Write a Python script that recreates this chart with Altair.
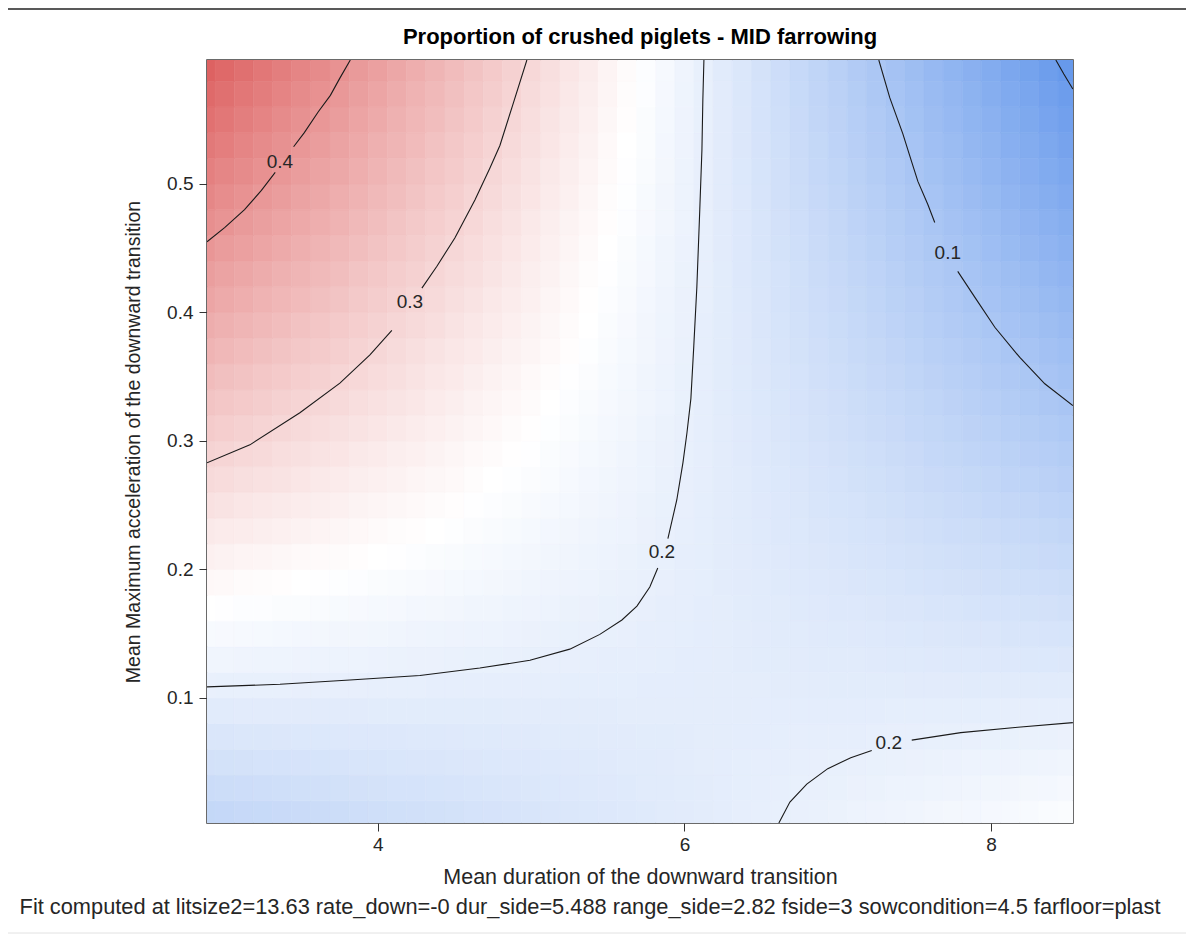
import altair as alt
import pandas as pd

FONT = "Liberation Sans"

TITLE = "Proportion of crushed piglets - MID farrowing"
X_TITLE = "Mean duration of the downward transition"
Y_TITLE = "Mean Maximum acceleration of the downward transition"
FOOTNOTE = ("Fit computed at litsize2=13.63 rate_down=-0 dur_side=5.488 "
            "range_side=2.82 fside=3 sowcondition=4.5 farfloor=plast")

x_domain = [2.885, 8.535]
y_domain = [0.0027, 0.5965]
x_ticks = [4, 6, 8]
y_ticks = [0.1, 0.2, 0.3, 0.4, 0.5]

# predicted proportion (cell centres)
grid_x = [2.875, 3.0, 3.125, 3.25, 3.375, 3.5, 3.625, 3.75, 3.875, 4.0, 4.125, 4.25,
          4.375, 4.5, 4.625, 4.75, 4.875, 5.0, 5.125, 5.25, 5.375, 5.5, 5.625, 5.75,
          5.875, 6.0, 6.125, 6.25, 6.375, 6.5, 6.625, 6.75, 6.875, 7.0, 7.125, 7.25,
          7.375, 7.5, 7.625, 7.75, 7.875, 8.0, 8.125, 8.25, 8.375, 8.5]
grid_y = [0.01, 0.03, 0.05, 0.07, 0.09, 0.11, 0.13, 0.15, 0.17, 0.19,
          0.21, 0.23, 0.25, 0.27, 0.29, 0.31, 0.33, 0.35, 0.37, 0.39,
          0.41, 0.43, 0.45, 0.47, 0.49, 0.51, 0.53, 0.55, 0.57, 0.59]
grid_values = [
    [.143, .145, .147, .148, .150, .152, .154, .156, .158, .160, .162, .164, .165, .167, .169, .171, .173, .175, .177, .179, .181, .183, .184, .186, .188, .190, .192, .194, .196, .198, .200, .201, .203, .205, .207, .209, .211, .213, .215, .217, .218, .220, .222, .224, .226, .228],
    [.154, .156, .157, .159, .160, .162, .163, .165, .166, .168, .169, .170, .172, .173, .175, .176, .178, .179, .181, .182, .184, .185, .186, .188, .189, .191, .192, .194, .195, .197, .198, .200, .201, .202, .204, .205, .207, .208, .210, .211, .213, .214, .216, .217, .218, .220],
    [.166, .167, .168, .169, .170, .171, .172, .173, .174, .175, .176, .177, .178, .179, .180, .181, .182, .183, .184, .185, .186, .187, .188, .189, .190, .192, .193, .194, .195, .196, .197, .198, .199, .200, .201, .202, .203, .204, .205, .206, .207, .208, .209, .210, .211, .212],
    [.178, .178, .179, .179, .180, .181, .181, .182, .182, .183, .183, .184, .184, .185, .186, .186, .187, .187, .188, .188, .189, .190, .190, .191, .191, .192, .193, .193, .194, .194, .195, .196, .196, .197, .197, .198, .199, .199, .200, .200, .201, .202, .202, .203, .203, .204],
    [.189, .189, .190, .190, .190, .190, .190, .190, .190, .191, .191, .191, .191, .191, .191, .191, .192, .192, .192, .192, .192, .192, .193, .193, .193, .193, .193, .193, .193, .194, .194, .194, .194, .194, .194, .194, .195, .195, .195, .195, .195, .195, .196, .196, .196, .196],
    [.201, .200, .200, .200, .200, .199, .199, .199, .199, .198, .198, .198, .197, .197, .197, .197, .196, .196, .196, .195, .195, .195, .195, .194, .194, .194, .193, .193, .193, .193, .192, .192, .192, .191, .191, .191, .191, .190, .190, .190, .189, .189, .189, .189, .188, .188],
    [.212, .212, .211, .210, .210, .209, .208, .207, .207, .206, .205, .204, .204, .203, .202, .202, .201, .200, .199, .199, .198, .197, .197, .196, .195, .194, .194, .193, .192, .191, .191, .190, .189, .189, .188, .187, .186, .186, .185, .184, .184, .183, .182, .181, .181, .180],
    [.224, .223, .222, .221, .219, .218, .217, .216, .215, .214, .212, .211, .210, .209, .208, .207, .206, .204, .203, .202, .201, .200, .199, .197, .196, .195, .194, .193, .192, .190, .189, .188, .187, .186, .185, .184, .182, .181, .180, .179, .178, .177, .175, .174, .173, .172],
    [.236, .234, .232, .231, .229, .228, .226, .224, .223, .221, .220, .218, .217, .215, .213, .212, .210, .209, .207, .205, .204, .202, .201, .199, .197, .196, .194, .193, .191, .189, .188, .186, .185, .183, .182, .180, .178, .177, .175, .174, .172, .170, .169, .167, .166, .164],
    [.247, .245, .243, .241, .239, .237, .235, .233, .231, .229, .227, .225, .223, .221, .219, .217, .215, .213, .211, .209, .207, .205, .203, .201, .199, .197, .195, .192, .190, .188, .186, .184, .182, .180, .178, .176, .174, .172, .170, .168, .166, .164, .162, .160, .158, .156],
    [.259, .256, .254, .251, .249, .246, .244, .242, .239, .237, .234, .232, .229, .227, .224, .222, .219, .217, .214, .212, .210, .207, .205, .202, .200, .197, .195, .192, .190, .187, .185, .182, .180, .178, .175, .173, .170, .168, .165, .163, .160, .158, .155, .153, .150, .148],
    [.270, .267, .265, .262, .259, .256, .253, .250, .247, .244, .241, .239, .236, .233, .230, .227, .224, .221, .218, .215, .212, .210, .207, .204, .201, .198, .195, .192, .189, .186, .183, .181, .178, .175, .172, .169, .166, .163, .160, .157, .155, .152, .149, .146, .143, .140],
    [.282, .279, .275, .272, .269, .265, .262, .259, .255, .252, .249, .245, .242, .239, .235, .232, .229, .225, .222, .219, .215, .212, .209, .205, .202, .199, .195, .192, .189, .185, .182, .179, .175, .172, .169, .165, .162, .159, .155, .152, .149, .145, .142, .139, .135, .132],
    [.294, .290, .286, .282, .279, .275, .271, .267, .263, .260, .256, .252, .248, .245, .241, .237, .233, .230, .226, .222, .218, .214, .211, .207, .203, .199, .196, .192, .188, .184, .181, .177, .173, .169, .165, .162, .158, .154, .150, .147, .143, .139, .135, .132, .128, .124],
    [.305, .301, .297, .293, .288, .284, .280, .276, .271, .267, .263, .259, .255, .250, .246, .242, .238, .234, .229, .225, .221, .217, .213, .208, .204, .200, .196, .192, .187, .183, .179, .175, .171, .166, .162, .158, .154, .150, .145, .141, .137, .133, .129, .124, .120, .116],
    [.317, .312, .307, .303, .298, .294, .289, .284, .280, .275, .270, .266, .261, .256, .252, .247, .243, .238, .233, .229, .224, .219, .215, .210, .205, .201, .196, .192, .187, .182, .178, .173, .168, .164, .159, .154, .150, .145, .141, .136, .131, .127, .122, .117, .113, .108],
    [.328, .323, .318, .313, .308, .303, .298, .293, .288, .283, .278, .273, .267, .262, .257, .252, .247, .242, .237, .232, .227, .222, .217, .212, .207, .202, .196, .191, .186, .181, .176, .171, .166, .161, .156, .151, .146, .141, .136, .131, .125, .120, .115, .110, .105, .100],
    [.340, .334, .329, .323, .318, .312, .307, .301, .296, .290, .285, .279, .274, .268, .263, .257, .252, .246, .241, .235, .230, .224, .219, .213, .208, .202, .197, .191, .186, .180, .175, .169, .164, .158, .153, .147, .142, .136, .131, .125, .120, .114, .109, .103, .098, .092],
    [.352, .346, .340, .334, .328, .322, .316, .310, .304, .298, .292, .286, .280, .274, .268, .262, .256, .251, .245, .239, .233, .227, .221, .215, .209, .203, .197, .191, .185, .179, .173, .167, .161, .155, .149, .144, .138, .132, .126, .120, .114, .108, .102, .096, .090, .084],
    [.363, .357, .350, .344, .338, .331, .325, .318, .312, .306, .299, .293, .287, .280, .274, .267, .261, .255, .248, .242, .236, .229, .223, .216, .210, .204, .197, .191, .185, .178, .172, .165, .159, .153, .146, .140, .133, .127, .121, .114, .108, .102, .095, .089, .082, .076],
    [.375, .368, .361, .354, .347, .341, .334, .327, .320, .313, .307, .300, .293, .286, .279, .272, .266, .259, .252, .245, .238, .232, .225, .218, .211, .204, .198, .191, .184, .177, .170, .163, .157, .150, .143, .136, .129, .123, .116, .109, .102, .095, .089, .082, .075, .068],
    [.386, .379, .372, .365, .357, .350, .343, .336, .328, .321, .314, .307, .299, .292, .285, .278, .270, .263, .256, .249, .241, .234, .227, .220, .212, .205, .198, .191, .183, .176, .169, .162, .154, .147, .140, .133, .125, .118, .111, .104, .096, .089, .082, .075, .067, .060],
    [.398, .390, .383, .375, .367, .360, .352, .344, .336, .329, .321, .313, .306, .298, .290, .283, .275, .267, .260, .252, .244, .237, .229, .221, .213, .206, .198, .190, .183, .175, .167, .160, .152, .144, .137, .129, .121, .114, .106, .098, .091, .083, .075, .067, .060, .052],
    [.410, .401, .393, .385, .377, .369, .361, .353, .345, .336, .328, .320, .312, .304, .296, .288, .280, .271, .263, .255, .247, .239, .231, .223, .215, .207, .198, .190, .182, .174, .166, .158, .150, .142, .133, .125, .117, .109, .101, .093, .085, .077, .069, .060, .052, .044],
    [.421, .413, .404, .395, .387, .378, .370, .361, .353, .344, .336, .327, .318, .310, .301, .293, .284, .276, .267, .259, .250, .241, .233, .224, .216, .207, .199, .190, .182, .173, .164, .156, .147, .139, .130, .122, .113, .105, .096, .087, .079, .070, .062, .053, .045, .036],
    [.433, .424, .415, .406, .397, .388, .379, .370, .361, .352, .343, .334, .325, .316, .307, .298, .289, .280, .271, .262, .253, .244, .235, .226, .217, .208, .199, .190, .181, .172, .163, .154, .145, .136, .127, .118, .109, .100, .091, .082, .073, .064, .055, .046, .037, .028],
    [.444, .435, .425, .416, .407, .397, .388, .378, .369, .359, .350, .341, .331, .322, .312, .303, .293, .284, .275, .265, .256, .246, .237, .228, .218, .209, .199, .190, .180, .171, .162, .152, .143, .133, .124, .114, .105, .096, .086, .077, .067, .058, .048, .039, .030, .020],
    [.456, .446, .436, .426, .416, .407, .397, .387, .377, .367, .357, .347, .338, .328, .318, .308, .298, .288, .278, .269, .259, .249, .239, .229, .219, .209, .200, .190, .180, .170, .160, .150, .140, .131, .121, .111, .101, .091, .081, .071, .061, .052, .042, .032, .022, .012],
    [.467, .457, .447, .437, .426, .416, .406, .395, .385, .375, .365, .354, .344, .334, .323, .313, .303, .292, .282, .272, .262, .251, .241, .231, .220, .210, .200, .190, .179, .169, .159, .148, .138, .128, .117, .107, .097, .087, .076, .066, .056, .045, .035, .025, .014, .004],
    [.479, .468, .458, .447, .436, .425, .415, .404, .393, .383, .372, .361, .350, .340, .329, .318, .307, .297, .286, .275, .265, .254, .243, .232, .222, .211, .200, .189, .179, .168, .157, .146, .136, .125, .114, .104, .093, .082, .071, .061, .050, .039, .028, .018, .007, -.004],
]
surface_min, surface_max = -0.0095, 0.482

# contour lines (segments split where the labels sit)
contour_segments = {
    "0.4a": ([2.885, 3.00, 3.13, 3.24, 3.33],
             [0.455, 0.466, 0.480, 0.495, 0.509]),
    "0.4b": ([3.45, 3.52, 3.61, 3.69, 3.75, 3.82],
             [0.529, 0.540, 0.556, 0.569, 0.582, 0.5965]),
    "0.3a": ([2.885, 3.165, 3.491, 3.752, 3.948, 4.091],
             [0.283, 0.297, 0.322, 0.345, 0.367, 0.386]),
    "0.3b": ([4.287, 4.385, 4.502, 4.633, 4.731, 4.796, 4.881, 4.972],
             [0.419, 0.436, 0.458, 0.4875, 0.5125, 0.530, 0.562, 0.5965]),
    "0.2a": ([2.885, 3.361, 3.817, 4.274, 4.665, 4.992, 5.252, 5.448, 5.592, 5.690, 5.774, 5.826],
             [0.1086, 0.1107, 0.1140, 0.1175, 0.1233, 0.1293, 0.1380, 0.1495, 0.1607, 0.1715, 0.1864, 0.2012]),
    "0.2b": ([5.892, 5.950, 5.990, 6.016, 6.042, 6.061, 6.081, 6.100, 6.114, 6.120, 6.127],
             [0.2240, 0.2541, 0.2830, 0.3060, 0.3330, 0.3740, 0.4200, 0.4800, 0.5265, 0.5654, 0.5965]),
    "0.2c": ([6.616, 6.688, 6.798, 6.935, 7.085, 7.222],
             [0.0027, 0.0190, 0.0330, 0.0450, 0.0535, 0.0592]),
    "0.2d": ([7.483, 7.803, 8.175, 8.534],
             [0.0672, 0.0730, 0.0772, 0.0808]),
    "0.1a": ([7.268, 7.340, 7.425, 7.483, 7.523, 7.588, 7.633],
             [0.5965, 0.5670, 0.5390, 0.5170, 0.5020, 0.4840, 0.4700]),
    "0.1b": ([7.783, 7.894, 8.025, 8.188, 8.351, 8.534],
             [0.4320, 0.4120, 0.3885, 0.3650, 0.3445, 0.3275]),
    "0.0": ([8.423, 8.475, 8.534],
            [0.5965, 0.5856, 0.5739]),
}

label_text = ["0.4", "0.3", "0.2", "0.2", "0.1"]
label_x = [3.361, 4.209, 5.853, 7.333, 7.718]
label_y = [0.517, 0.408, 0.2136, 0.0650, 0.4463]

# ---------- tables ----------
dx = (grid_x[1] - grid_x[0]) / 2
dy = (grid_y[1] - grid_y[0]) / 2
cells = []
for yc, row in zip(grid_y, grid_values):
    for xc, v in zip(grid_x, row):
        cells.append({"x0": xc - dx, "x1": xc + dx, "y0": yc - dy, "y1": yc + dy, "v": v})
heat_df = pd.DataFrame(cells)

line_rows = []
for seg, (xs, ys) in contour_segments.items():
    for i, (xv, yv) in enumerate(zip(xs, ys)):
        line_rows.append({"seg": seg, "i": i, "x": xv, "y": yv})
line_df = pd.DataFrame(line_rows)

lab_df = pd.DataFrame({"t": label_text, "x": label_x, "y": label_y})
foot_df = pd.DataFrame({"t": [FOOTNOTE]})
title_df = pd.DataFrame({"t": [TITLE]})
one_df = pd.DataFrame({"k": [0]})

# ---------- scales / axes ----------
mid = (surface_min + surface_max) / 2
cscale = alt.Scale(domain=[surface_min, mid, surface_max],
                   range=["#6497EB", "#FFFFFF", "#DD6060"], interpolate="rgb")
xscale = alt.Scale(domain=x_domain, nice=False, zero=False)
yscale = alt.Scale(domain=y_domain, nice=False, zero=False)

W, H = 866, 763

xaxis = alt.Axis(values=x_ticks, format="d", labelPadding=4, title=X_TITLE,
                 titleX=W / 2, titleY=54, titleBaseline="middle", titleAlign="center",
                 titleFontSize=21.5)
yaxis = alt.Axis(values=y_ticks, format=".1f", labelPadding=6, title=Y_TITLE,
                 titleX=-74, titleY=H / 2, titleAngle=270,
                 titleBaseline="middle", titleAlign="center", titleFontSize=19.5)

heat = alt.Chart(heat_df).mark_rect(clip=True, strokeWidth=0.6).encode(
    x=alt.X("x0:Q", scale=xscale, axis=xaxis),
    x2="x1:Q",
    y=alt.Y("y0:Q", scale=yscale, axis=yaxis),
    y2="y1:Q",
    color=alt.Color("v:Q", scale=cscale, legend=None),
    stroke=alt.Stroke("v:Q", scale=cscale, legend=None),
)

lines = alt.Chart(line_df).mark_line(clip=True, color="#1a1a1a", strokeWidth=1.1).encode(
    x="x:Q", y="y:Q", detail="seg:N", order="i:Q"
)

labels = alt.Chart(lab_df).mark_text(font=FONT, fontSize=19, color="#262626").encode(
    x="x:Q", y="y:Q", text="t:N"
)

title_txt = alt.Chart(title_df).mark_text(font=FONT, fontSize=22, fontWeight="bold",
                                          color="#000000", align="center",
                                          baseline="middle").encode(
    x=alt.value(W / 2), y=alt.value(-23), text="t:N"
)

foot = alt.Chart(foot_df).mark_text(font=FONT, fontSize=21.8, color="#262626",
                                    align="center", baseline="middle").encode(
    x=alt.value(383), y=alt.value(847), text="t:N"
)

# thin frame lines of the exported graphic (top dark, bottom faint)
top_rule = alt.Chart(one_df).mark_rule(color="#222222", strokeWidth=1.5).encode(
    x=alt.value(-210), x2=alt.value(990), y=alt.value(-51)
)
bottom_rule = alt.Chart(one_df).mark_rule(color="#e2e2e2", strokeWidth=1).encode(
    x=alt.value(-210), x2=alt.value(990), y=alt.value(873)
)

chart = alt.layer(heat, lines, labels, title_txt, foot, top_rule, bottom_rule).properties(
    width=W, height=H,
    padding={"left": 199, "top": 52, "right": 113, "bottom": 114},
    autosize=alt.AutoSizeParams(type="none"),
).configure_view(
    stroke="#3a3a3a", strokeWidth=1.5
).configure_axis(
    domain=False, grid=False, ticks=True, tickSize=8, tickColor="#333333", tickWidth=1,
    labelFont=FONT, labelFontSize=19, labelColor="#262626",
    titleFont=FONT, titleFontWeight="normal", titleColor="#262626",
)

chart.save("out.html", embed_options={"renderer": "svg", "actions": False})
